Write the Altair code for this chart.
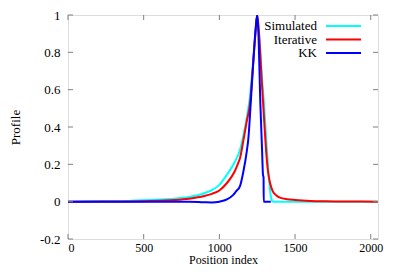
import altair as alt
import pandas as pd

# ---- data ----
sim_x = [0, 200, 400, 600, 700, 800, 900, 950, 1000, 1050, 1100, 1137, 1160, 1181, 1203, 1225, 1240, 1250,
         1262, 1282, 1297, 1309, 1324, 1335, 1345, 1355, 1500, 2047]
sim_y = [0, 0.002, 0.004, 0.011, 0.016, 0.025, 0.045, 0.062, 0.09, 0.145, 0.21, 0.28, 0.36, 0.45, 0.57, 0.77, 0.92, 1.0,
         0.9, 0.66, 0.5, 0.34, 0.16, 0.06, 0.01, 0, 0, 0]

it_x = [0, 400, 600, 700, 800, 900, 950, 1000, 1050, 1100, 1121, 1137, 1159, 1181, 1203, 1225, 1240, 1250,
        1260, 1282, 1297, 1310, 1320, 1335, 1353, 1375, 1400, 1450, 1500, 1550, 1600, 1700, 1800, 2047]
it_y = [0, 0.001, 0.005, 0.009, 0.016, 0.03, 0.042, 0.06, 0.1, 0.16, 0.2, 0.235, 0.33, 0.43, 0.53, 0.76, 0.92, 1.0,
        0.92, 0.62, 0.42, 0.26, 0.17, 0.1, 0.055, 0.035, 0.022, 0.013, 0.009, 0.006, 0.004, 0.002, 0.001, 0]

kk_x = [0, 800, 900, 950, 1000, 1050, 1090, 1110, 1137, 1159, 1181, 1192, 1205, 1225, 1240, 1250,
        1258, 1271, 1282, 1288, 1292, 1293, 1340]
kk_y = [0, 0, -0.003, -0.004, 0.0, 0.012, 0.035, 0.055, 0.085, 0.163, 0.27, 0.342, 0.5, 0.76, 0.93, 1.0,
        0.9, 0.52, 0.28, 0.145, 0.13, 0, 0]

series = ["Simulated", "Iterative", "KK"]
colors = ["#00ffff", "#ff0000", "#0000ff"]
x_ticks = [0, 500, 1000, 1500, 2000]
y_ticks = [-0.2, 0, 0.2, 0.4, 0.6, 0.8, 1.0]

rows = []
for name, xs, ys in zip(series, [sim_x, it_x, kk_x], [sim_y, it_y, kk_y]):
    for i, (a, b) in enumerate(zip(xs, ys)):
        rows.append({"series": name, "x": a, "y": b, "i": i})
df = pd.DataFrame(rows)

W, H = 310, 224
FONT = "'Liberation Serif', 'Times New Roman', serif"
GRAY = "#808080"

xs = alt.Scale(domain=[0, 2048], nice=False, zero=False)
ys = alt.Scale(domain=[-0.2, 1.0], nice=False, zero=False)

x_axis = alt.Axis(values=x_ticks, title="Position index", grid=False, domain=False, ticks=False,
                  format="d", labelOverlap=False,
                  labelPadding=3, titlePadding=1, labelFont=FONT, titleFont=FONT,
                  labelFontSize=12, titleFontSize=12, titleFontWeight="normal",
                  labelColor="black", titleColor="black")
y_axis = alt.Axis(values=y_ticks, title="Profile", grid=False, domain=False, ticks=False,
                  labelOverlap=False,
                  labelPadding=8, titlePadding=17, labelFont=FONT, titleFont=FONT,
                  labelFontSize=13, titleFontSize=13, titleFontWeight="normal",
                  labelColor="black", titleColor="black",
                  labelExpr="'' + round(datum.value*10)/10")

X = lambda f: alt.X(f, scale=xs, axis=x_axis)
Y = lambda f: alt.Y(f, scale=ys, axis=y_axis)

layers = []
for name, col in zip(series, colors):
    layers.append(
        alt.Chart(df).transform_filter(alt.datum.series == name)
        .mark_line(color=col, strokeWidth=2, clip=True, interpolate="monotone")
        .encode(x=X("x:Q"), y=Y("y:Q"), order="i:Q")
    )

# inward tick marks (mirrored on all sides)
xt = pd.DataFrame({"t": x_ticks})
yt = pd.DataFrame({"t": y_ticks})
tick_len = 5
xtick_b = alt.Chart(xt).mark_rule(color=GRAY, strokeWidth=1).encode(
    x=X("t:Q"), y=alt.value(H), y2=alt.value(H - tick_len))
xtick_t = alt.Chart(xt).mark_rule(color=GRAY, strokeWidth=1).encode(
    x=X("t:Q"), y=alt.value(0), y2=alt.value(tick_len))
ytick_l = alt.Chart(yt).mark_rule(color=GRAY, strokeWidth=1).encode(
    y=Y("t:Q"), x=alt.value(0), x2=alt.value(tick_len))
ytick_r = alt.Chart(yt).mark_rule(color=GRAY, strokeWidth=1).encode(
    y=Y("t:Q"), x=alt.value(W), x2=alt.value(W - tick_len))

# legend (label left of sample line), top-right inside
leg = pd.DataFrame({"series": series, "color": colors, "row": [0, 1, 2]})
row_scale = alt.Scale(type="point", domain=[0, 1, 2], range=[11, 38], padding=0)
leg_text = alt.Chart(leg).mark_text(align="right", baseline="middle", font=FONT, fontSize=13,
                                    color="black").encode(
    text="series:N", x=alt.value(249),
    y=alt.Y("row:O", scale=row_scale, axis=None))
leg_line = alt.Chart(leg).mark_rule(strokeWidth=2).encode(
    x=alt.value(258), x2=alt.value(293),
    y=alt.Y("row:O", scale=row_scale, axis=None),
    color=alt.Color("color:N", scale=None))

main = alt.layer(*layers, xtick_b, xtick_t, ytick_l, ytick_r)
legend = alt.layer(leg_line, leg_text)

chart = alt.layer(main, legend).resolve_scale(y="independent").properties(
    width=W, height=H,
    autosize=alt.AutoSizeParams(type="none"),
    padding={"left": 60, "top": 7, "right": 14, "bottom": 31},
).configure_view(stroke=GRAY, strokeWidth=2).configure(
    background="white", font=FONT
)

chart.save("out.html", embed_options={"renderer": "svg", "actions": False})
